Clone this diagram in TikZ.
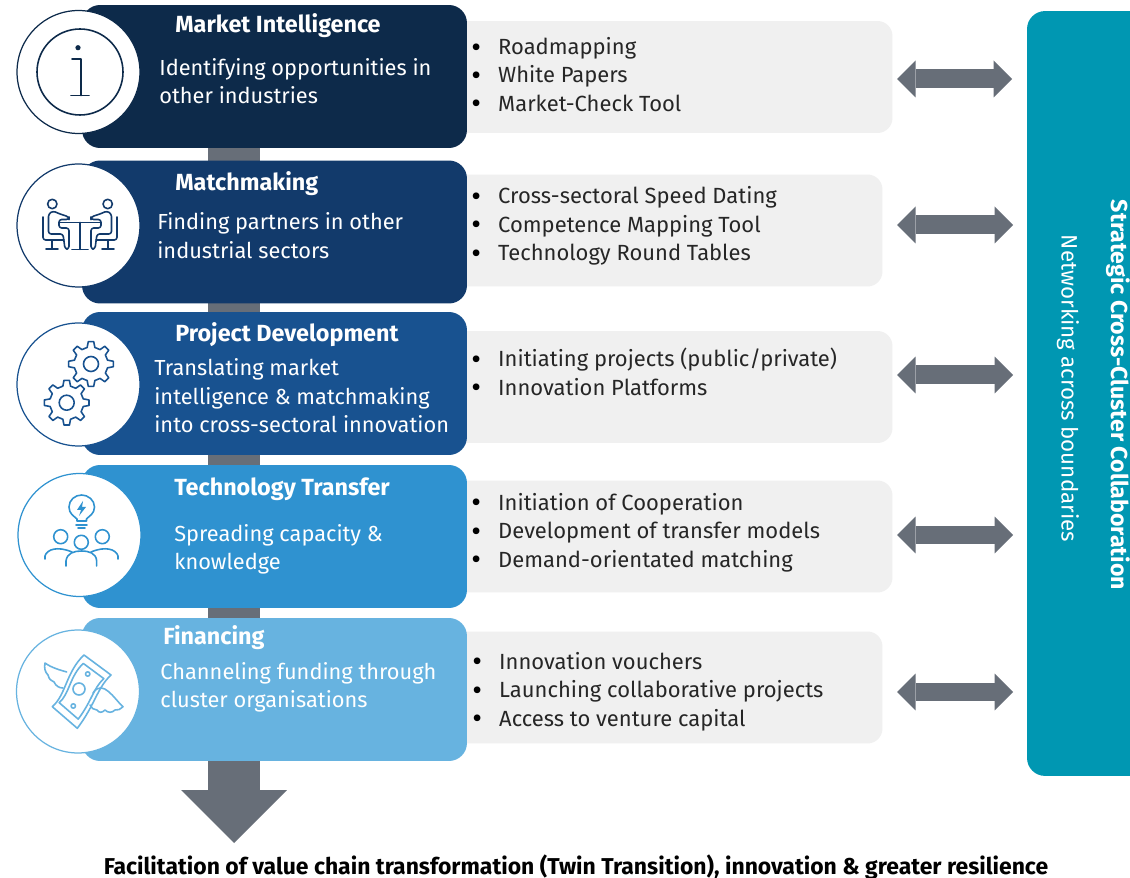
\documentclass[tikz,border=0pt]{standalone}
\usepackage{fontspec}
\setmainfont{Fira Sans}
\usetikzlibrary{arrows.meta}

\definecolor{intelblue}{HTML}{0D2A4A}
\definecolor{matchblue}{HTML}{123A6B}
\definecolor{projectblue}{HTML}{185290}
\definecolor{transferblue}{HTML}{2F92D0}
\definecolor{financeblue}{HTML}{67B3E0}
\definecolor{spinegrey}{HTML}{676E78}
\definecolor{listgrey}{HTML}{F0F0F0}
\definecolor{bandteal}{HTML}{0097B2}
\definecolor{listtext}{HTML}{262626}

\tikzset{
	stagebox/.style={rectangle,rounded corners=0.36cm,minimum width=7.7cm,minimum height=2.86cm,inner sep=0,draw=none},
	listbox/.style={rectangle,rounded corners=0.3cm,fill=listgrey,inner sep=0,minimum height=2.24cm},
	iconring/.style={circle,fill=white,line width=0.7pt,minimum size=2.46cm,inner sep=0},
	iconline/.style={line width=0.9pt,line cap=round,line join=round},
	headtext/.style={anchor=west,inner sep=0,text=white,font=\fontsize{13.3}{16.15}\selectfont\bfseries},
	bodytext/.style={anchor=west,inner sep=0,text=white,align=left,font=\fontsize{12.4}{16.15}\selectfont},
	listtextbox/.style={anchor=west,inner sep=0,text=listtext,align=left,font=\fontsize{12.5}{16.15}\selectfont},
	twoway/.style={line width=0.38cm,color=spinegrey,{Triangle[length=0.37cm,width=0.74cm,line width=0pt]}-{Triangle[length=0.37cm,width=0.74cm,line width=0pt]}},
	spine/.style={line width=1.06cm,color=spinegrey,-{Triangle[length=1.06cm,width=2.12cm,line width=0pt]}}
}

\def\bitem#1{\makebox[15.3pt][l]{\smash{\raisebox{-1.4pt}{\fontsize{17}{16}\selectfont\textcolor{black}{\textbullet}}}}#1}
% one person on a chair, mirrored for the other side of the table
\def\sitter{
	\draw[iconline,draw=matchblue] (52.3,204) circle (4.7);
	\draw[iconline,draw=matchblue,rounded corners=1.5] (43,217) -- (43,240) -- (64,240);
	\draw[iconline,draw=matchblue] (52,240) -- (52,249);
	\draw[iconline,draw=matchblue] (46,249) -- (58,249);
	\draw[iconline,draw=matchblue,rounded corners=1.5] (69,217) -- (60,214) -- (53,211) -- (48.5,214) -- (48.5,234) -- (63,234) -- (65,249) -- (69,249) -- (69,228) -- (59,228) -- (59,219.5) -- (69,219.5) -- cycle;
}
\def\gearicon(#1,#2){
	\begin{scope}[shift={(#1,#2)}]
		\draw[iconline,draw=projectblue] (-13:17) \foreach \a in {0,45,...,315}{ -- (\a-13:17) -- (\a-7:22.5) -- (\a+7:22.5) -- (\a+13:17) } -- cycle;
		\draw[iconline,draw=projectblue] (0,0) circle (7.5);
	\end{scope}
}
\def\billedge{(84,655) -- (111,675) .. controls (97,688) and (95,705) .. (77.3,728.3) -- (52.3,706.7) .. controls (66,695) and (66,672) .. (84,655) -- cycle}

\begin{document}
\begin{tikzpicture}[x=0.02cm,y=-0.02cm]
	\clip (0,0) rectangle (1130,878);
	\fill[white] (0,0) rectangle (1130,878);

	%%%%% spine %%%%%
	\coordinate (spinetop) at (234,100);
	\coordinate (spinetip) at (234,843);
	\draw[spine] (spinetop) -- (spinetip);

	%%%%% list panels %%%%%
	\node[listbox,minimum width=8.94cm] (intellist) at (669,77) {};
	\node[listbox,minimum width=8.74cm] (matchlist) at (664,230.5) {};
	\node[listbox,minimum width=8.94cm] (projectlist) at (669,387) {};
	\node[listbox,minimum width=8.94cm] (transferlist) at (669,536.5) {};
	\node[listbox,minimum width=8.74cm] (financelist) at (664,687.5) {};

	%%%%% stages %%%%%
	\node[stagebox,fill=intelblue] (intelbox) at (274.5,76.5) {};
	\node[stagebox,fill=matchblue] (matchbox) at (274.5,232) {};
	\node[stagebox,fill=projectblue] (projectbox) at (274.5,383.5) {};
	\node[stagebox,fill=transferblue] (transferbox) at (274.5,536.5) {};
	\node[stagebox,fill=financeblue] (financebox) at (274.5,689.5) {};

	\node[iconring,draw=intelblue] (intelring) at (78.5,72) {};
	\node[iconring,draw=matchblue] (matchring) at (78.5,225.5) {};
	\node[iconring,draw=projectblue] (projectring) at (78.5,384.5) {};
	\node[iconring,draw=transferblue] (transferring) at (79.5,535) {};
	\node[iconring,draw=financeblue] (financering) at (78,691.5) {};

	%%%%% icons %%%%%
	\draw[iconline,draw=intelblue] (80,72) circle (43);
	\fill[intelblue] (78,47.7) circle (2.6);
	\draw[iconline,draw=intelblue] (72,59) -- (81,59) -- (81,95.5);
	\draw[iconline,draw=intelblue] (71,95.5) -- (89,95.5);

	\sitter
	\begin{scope}[shift={(160,0)},xscale=-1]
		\sitter
	\end{scope}
	\draw[iconline,draw=matchblue] (60,222.5) -- (100,222.5);
	\draw[iconline,draw=matchblue] (80,222.5) -- (80,249.3);
	\draw[iconline,draw=matchblue] (72,249.3) -- (88,249.3);

	\gearicon(91,364)
	\gearicon(66.7,402.7)

	\draw[iconline,draw=transferblue] (77,521) -- (77,519) .. controls (74,516) and (69,514) .. (69,507) .. controls (69,500) and (75,495) .. (81.7,495) .. controls (88,495) and (94.5,500) .. (94.5,507) .. controls (94.5,514) and (89,516) .. (86.5,519) -- (86.5,521) -- cycle;
	\fill[transferblue] (83,501) -- (77,510) -- (81,510) -- (79,516) -- (86,507) -- (82,507) -- cycle;
	\draw[iconline,draw=transferblue] (76,525) -- (87,525);
	\draw[iconline,draw=transferblue] (78,528) -- (85,528);
	\draw[iconline,draw=transferblue] (60.7,536.7) circle (7);
	\draw[iconline,draw=transferblue] (81.3,542.3) circle (7);
	\draw[iconline,draw=transferblue] (102.3,536.7) circle (7);
	\draw[iconline,draw=transferblue] (45,559) -- (45,556) .. controls (47,549) and (58,546) .. (72,552);
	\draw[iconline,draw=transferblue] (118,559) -- (118,556) .. controls (116,549) and (105,546) .. (91,552);
	\draw[iconline,draw=transferblue] (66,566) -- (66,561) .. controls (67,553) and (74,551) .. (81.3,551) .. controls (89,551) and (96,553) .. (96.7,561) -- (96.7,566);

	\draw[iconline,draw=financeblue] \billedge;
	\draw[iconline,draw=financeblue,scale around={0.76:(81,690)}] \billedge;
	\draw[iconline,draw=financeblue] (79,689) circle (6);
	\draw[iconline,draw=financeblue] (87.7,674) circle (2.2);
	\draw[iconline,draw=financeblue] (73.3,706) circle (2.2);
	\draw[iconline,draw=financeblue] (66.7,672) .. controls (60,670) and (52,668) .. (45,663) .. controls (44,668) and (45,672) .. (48,675) .. controls (49,679) and (51,681) .. (54,682) .. controls (56,686) and (59,688) .. (63,688);
	\draw[iconline,draw=financeblue] (93,693) .. controls (103,678) and (115,700) .. (123,706.7) .. controls (120,709) and (118,711) .. (115,710) .. controls (112,713) and (108,713) .. (105,710) .. controls (102,713) and (99,713) .. (97,710) .. controls (94,710) and (91,708) .. (90,705);

	%%%%% stage texts %%%%%
	\node[headtext] (intelhead) at (175,26) {Market Intelligence};
	\node[bodytext] (inteltext) at (159,81) {Identifying opportunities in\\other industries};
	\node[headtext] (matchhead) at (175,184) {Matchmaking};
	\node[bodytext] (matchtext) at (157,235.5) {Finding partners in other\\industrial sectors};
	\node[headtext] (projecthead) at (175,335) {Project Development};
	\node[bodytext] (projecttext) at (154,396) {Translating market\\intelligence \& matchmaking\\into cross-sectoral innovation};
	\node[headtext] (transferhead) at (174,489) {Technology Transfer};
	\node[bodytext] (transfertext) at (174,549.5) {Spreading capacity \&\\knowledge};
	\node[headtext] (financehead) at (163,638) {Financing};
	\node[bodytext] (financetext) at (160,687.5) {Channeling funding through\\cluster organisations};

	%%%%% list texts %%%%%
	\node[listtextbox] (intelitems) at (471,74.5) {\bitem{Roadmapping}\\\bitem{White Papers}\\\bitem{Market-Check Tool}};
	\node[listtextbox] (matchitems) at (471,226) {\bitem{Cross-sectoral Speed Dating}\\\bitem{Competence Mapping Tool}\\\bitem{Technology Round Tables}};
	\node[listtextbox] (projectitems) at (471,372) {\bitem{Initiating projects (public/private)}\\\bitem{Innovation Platforms}};
	\node[listtextbox] (transferitems) at (471,532.5) {\bitem{Initiation of Cooperation}\\\bitem{Development of transfer models}\\\bitem{Demand-orientated matching}};
	\node[listtextbox] (financeitems) at (472,691.5) {\bitem{Innovation vouchers}\\\bitem{Launching collaborative projects}\\\bitem{Access to venture capital}};

	%%%%% band %%%%%
	\node[rectangle,rounded corners=0.36cm,fill=bandteal,inner sep=0,minimum width=3cm,minimum height=15.3cm] (band) at (1102,393.5) {};
	\node[rotate=-90,inner sep=0,text=white,font=\fontsize{13.15}{15}\selectfont\bfseries] (bandhead) at (1118,395) {Strategic Cross-Cluster Collaboration};
	\node[rotate=-90,inner sep=0,text=white,font=\fontsize{12.7}{15}\selectfont] (bandtext) at (1068,388.5) {Networking across boundaries};

	%%%%% two way arrows %%%%%
	\coordinate (introleft) at (897,79);
	\coordinate (introright) at (1012,79);
	\coordinate (matchleft) at (897,225);
	\coordinate (matchright) at (1013,225);
	\coordinate (projectleft) at (897,375);
	\coordinate (projectright) at (1013,375);
	\coordinate (transferleft) at (897,535);
	\coordinate (transferright) at (1013,535);
	\coordinate (financeleft) at (897,692);
	\coordinate (financeright) at (1013,692);
	\draw[twoway] (introleft) -- (introright);
	\draw[twoway] (matchleft) -- (matchright);
	\draw[twoway] (projectleft) -- (projectright);
	\draw[twoway] (transferleft) -- (transferright);
	\draw[twoway] (financeleft) -- (financeright);

	%%%%% bottom line %%%%%
	\node[inner sep=0,text=black,font=\fontsize{13.05}{16}\selectfont\bfseries] (outcome) at (576,867) {Facilitation of value chain transformation (Twin Transition), innovation \& greater resilience};
\end{tikzpicture}
\end{document}
